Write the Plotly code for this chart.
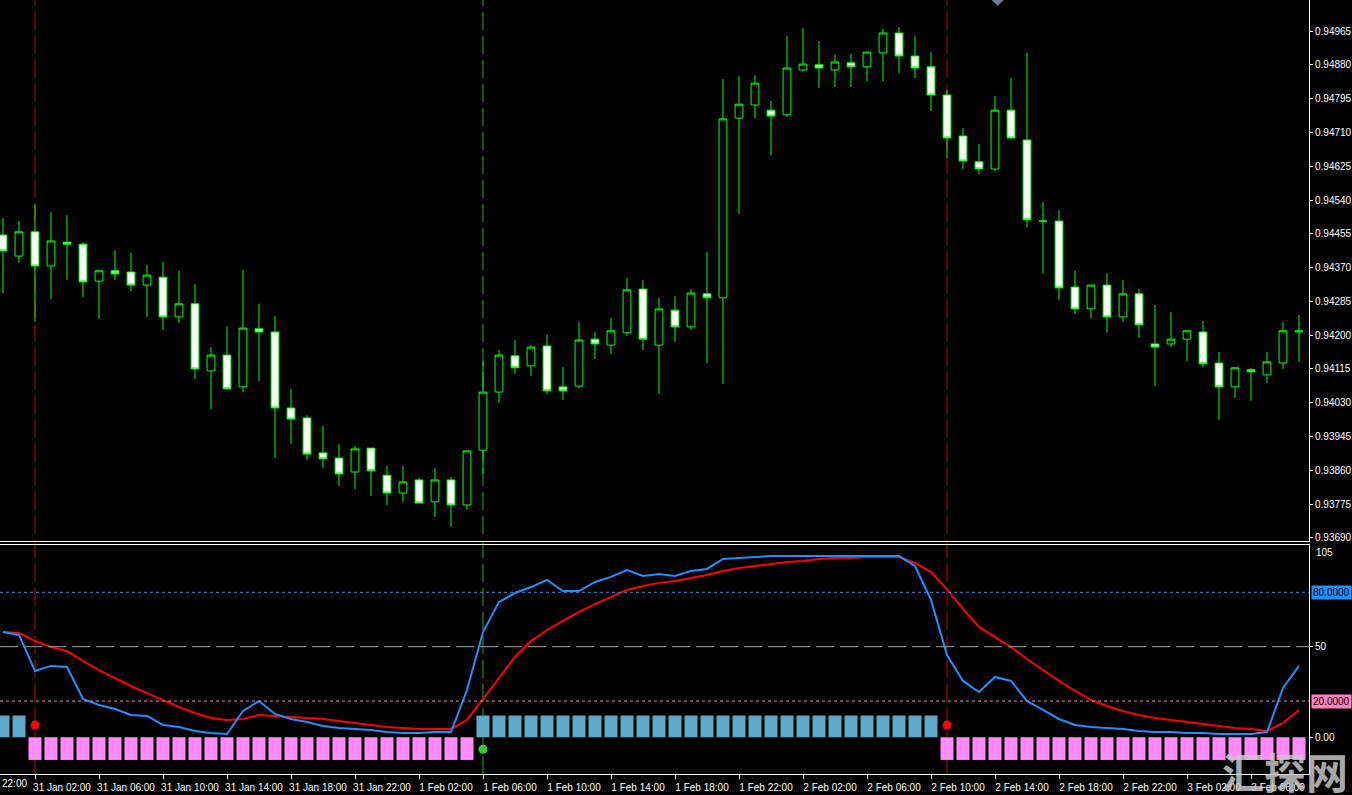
import plotly.graph_objects as go
import pandas as pd

# ---------------- data ----------------
start_time = "2022-01-31 00:00"
n_bars = 82
times = pd.date_range(start_time, periods=n_bars, freq="h")

opens = [0.94452, 0.94399, 0.94460, 0.94374, 0.94434, 0.94429, 0.94336, 0.94362, 0.94359, 0.94326,
         0.94346, 0.94246, 0.94279, 0.94110, 0.94150, 0.94070, 0.94216, 0.94208, 0.94017, 0.93992,
         0.93904, 0.93891, 0.93856, 0.93916, 0.93848, 0.93803, 0.93836, 0.93781, 0.93836, 0.93773,
         0.93911, 0.94057, 0.94148, 0.94123, 0.94173, 0.94070, 0.94072, 0.94190, 0.94175, 0.94206,
         0.94316, 0.94175, 0.94263, 0.94221, 0.94304, 0.94294, 0.94746, 0.94779, 0.94766, 0.94754,
         0.94867, 0.94880, 0.94867, 0.94885, 0.94875, 0.94910, 0.94960, 0.94902, 0.94875, 0.94804,
         0.94701, 0.94636, 0.94618, 0.94766, 0.94691, 0.94487, 0.94487, 0.94321, 0.94266, 0.94326,
         0.94246, 0.94304, 0.94178, 0.94178, 0.94190, 0.94208, 0.94130, 0.94070, 0.94113, 0.94100,
         0.94130, 0.94208]
highs = [0.94495, 0.94487, 0.94530, 0.94510, 0.94502, 0.94434, 0.94362, 0.94414, 0.94407, 0.94377,
         0.94384, 0.94362, 0.94329, 0.94170, 0.94221, 0.94364, 0.94279, 0.94248, 0.94065, 0.93999,
         0.93972, 0.93926, 0.93921, 0.93916, 0.93871, 0.93871, 0.93841, 0.93866, 0.93843, 0.93909,
         0.94135, 0.94163, 0.94188, 0.94175, 0.94201, 0.94120, 0.94233, 0.94208, 0.94243, 0.94344,
         0.94339, 0.94294, 0.94299, 0.94316, 0.94409, 0.94844, 0.94852, 0.94854, 0.94789, 0.94953,
         0.94973, 0.94940, 0.94905, 0.94907, 0.94912, 0.94970, 0.94975, 0.94953, 0.94912, 0.94817,
         0.94721, 0.94681, 0.94802, 0.94847, 0.94910, 0.94535, 0.94515, 0.94362, 0.94326, 0.94356,
         0.94339, 0.94316, 0.94276, 0.94258, 0.94213, 0.94236, 0.94158, 0.94118, 0.94118, 0.94158,
         0.94233, 0.94251]
lows = [0.94306, 0.94382, 0.94233, 0.94291, 0.94339, 0.94296, 0.94241, 0.94339, 0.94311, 0.94246,
        0.94213, 0.94231, 0.94090, 0.94014, 0.94062, 0.94057, 0.94085, 0.93891, 0.93926, 0.93886,
        0.93866, 0.93821, 0.93813, 0.93796, 0.93773, 0.93781, 0.93778, 0.93743, 0.93718, 0.93761,
        0.93851, 0.94030, 0.94102, 0.94097, 0.94052, 0.94037, 0.94067, 0.94140, 0.94153, 0.94198,
        0.94163, 0.94052, 0.94183, 0.94213, 0.94130, 0.94077, 0.94505, 0.94746, 0.94653, 0.94749,
        0.94864, 0.94822, 0.94824, 0.94824, 0.94839, 0.94839, 0.94859, 0.94847, 0.94764, 0.94646,
        0.94618, 0.94605, 0.94613, 0.94693, 0.94472, 0.94356, 0.94289, 0.94253, 0.94243, 0.94206,
        0.94233, 0.94193, 0.94072, 0.94170, 0.94135, 0.94120, 0.93987, 0.94042, 0.94035, 0.94080,
        0.94115, 0.94133]
closes = [0.94412, 0.94460, 0.94374, 0.94437, 0.94429, 0.94334, 0.94362, 0.94354, 0.94326, 0.94351,
          0.94246, 0.94279, 0.94115, 0.94150, 0.94065, 0.94218, 0.94208, 0.94017, 0.93989, 0.93901,
          0.93889, 0.93851, 0.93914, 0.93859, 0.93803, 0.93831, 0.93778, 0.93836, 0.93773, 0.93909,
          0.94057, 0.94150, 0.94118, 0.94170, 0.94060, 0.94060, 0.94188, 0.94178, 0.94211, 0.94314,
          0.94190, 0.94266, 0.94221, 0.94306, 0.94294, 0.94744, 0.94781, 0.94834, 0.94751, 0.94872,
          0.94882, 0.94872, 0.94887, 0.94875, 0.94912, 0.94960, 0.94902, 0.94872, 0.94804, 0.94696,
          0.94638, 0.94618, 0.94766, 0.94696, 0.94490, 0.94487, 0.94319, 0.94266, 0.94326, 0.94246,
          0.94304, 0.94226, 0.94170, 0.94190, 0.94211, 0.94128, 0.94070, 0.94118, 0.94108, 0.94133,
          0.94211, 0.94211]

stoch_main = [58.1, 56.5, 36.6, 39.4, 38.8, 21.1, 17.8, 15.6, 12.3, 11.8,
              6.8, 5.7, 3.5, 2.4, 1.8, 14.5, 20.0, 12.9, 10.1, 8.4,
              6.2, 5.1, 4.6, 4.0, 2.9, 2.4, 2.4, 2.9, 2.9, 26.1,
              58.1, 74.6, 79.6, 82.9, 86.8, 80.7, 80.7, 85.7, 88.5, 92.3,
              89.0, 90.1, 89.0, 91.8, 92.9, 98.4, 98.9, 99.5, 100.0, 100.0,
              100.0, 100.0, 100.0, 100.0, 100.0, 100.0, 100.0, 94.5, 75.8, 45.4,
              31.1, 25.0, 33.3, 31.1, 20.0, 15.1, 10.1, 6.8, 5.7, 5.1,
              4.6, 3.5, 2.9, 2.9, 2.4, 2.4, 1.8, 1.8, 1.8, 2.9,
              27.2, 39.4]
stoch_signal = [58.1, 57.6, 53.1, 49.8, 47.6, 42.1, 37.1, 32.7, 28.3, 24.4,
                20.6, 16.7, 13.4, 10.7, 9.6, 10.1, 12.3, 11.8, 11.2, 10.7,
                10.1, 9.0, 7.9, 6.8, 5.7, 5.1, 4.6, 4.6, 4.6, 9.6,
                21.1, 32.7, 44.3, 53.1, 59.2, 64.2, 69.2, 73.5, 77.4, 81.3,
                83.5, 85.2, 86.3, 87.9, 89.6, 91.8, 93.4, 94.5, 95.6, 96.7,
                97.3, 98.4, 98.9, 98.9, 99.5, 99.5, 99.5, 96.2, 91.2, 81.8,
                70.8, 60.9, 55.4, 49.8, 43.2, 37.1, 31.1, 25.6, 20.6, 17.3,
                14.5, 12.3, 10.7, 9.6, 8.4, 7.3, 6.2, 5.1, 4.6, 3.5,
                7.9, 15.1]
trend_hist = [12, 12,
              -12.5, -12.5, -12.5, -12.5, -12.5, -12.5, -12.5, -12.5, -12.5, -12.5,
              -12.5, -12.5, -12.5, -12.5, -12.5, -12.5, -12.5, -12.5, -12.5, -12.5,
              -12.5, -12.5, -12.5, -12.5, -12.5, -12.5, -12.5, -12.5,
              12, 12, 12, 12, 12, 12, 12, 12, 12, 12,
              12, 12, 12, 12, 12, 12, 12, 12, 12, 12,
              12, 12, 12, 12, 12, 12, 12, 12, 12,
              -12.5, -12.5, -12.5, -12.5, -12.5, -12.5, -12.5, -12.5, -12.5, -12.5,
              -12.5, -12.5, -12.5, -12.5, -12.5, -12.5, -12.5, -12.5, -12.5, -12.5,
              -12.5, -12.5, -12.5]

signal_index = [2, 30, 59]
signal_value = [6.8, -6.6, 6.8]
signal_color = ["#FF0000", "#32CD32", "#FF0000"]

price_ticks = [0.94965, 0.94880, 0.94795, 0.94710, 0.94625, 0.94540, 0.94455, 0.94370,
               0.94285, 0.94200, 0.94115, 0.94030, 0.93945, 0.93860, 0.93775, 0.93690]
ind_ticks = [0, 50]
ind_ticktext = ["0.00", "50"]
ind_top_label = "105"
level_hi, level_mid, level_lo = 80, 50, 20
level_hi_text, level_lo_text = "80.0000", "20.0000"
tick_format = "%-d %b %H:%M"
first_partial_label = "22:00"
watermark = "汇探网"

# ---------------- figure ----------------
FONT = "Liberation Sans, Arial, sans-serif"
GREEN = "#00FF00"
BLUE_BAR = "#5FA8CA"
PINK_BAR = "#FF8CFF"

fig = go.Figure()

hour_ms = 3600 * 1000
x_left = times[0] - pd.Timedelta(minutes=11.25)
x_right = times[0] + pd.Timedelta(minutes=81.625 * 60)

# vertical signal lines (drawn under everything)
for idx, col in zip(signal_index, signal_color):
    fig.add_shape(type="line", xref="x", yref="paper", x0=times[idx], x1=times[idx],
                  y0=0, y1=1, line=dict(color=col, width=1, dash="18px,6px"), layer="below",
                  opacity=0.8)

fig.add_trace(go.Candlestick(
    x=times, open=opens, high=highs, low=lows, close=closes,
    increasing=dict(line=dict(color=GREEN, width=1), fillcolor="#000000"),
    decreasing=dict(line=dict(color=GREEN, width=1), fillcolor="#FFFFFF"),
    whiskerwidth=0, xaxis="x", yaxis="y", showlegend=False, hoverinfo="skip"))

up_vals = [v if v > 0 else None for v in trend_hist]
dn_vals = [v if v < 0 else None for v in trend_hist]
bar_w = 0.8125 * hour_ms
fig.add_trace(go.Bar(x=times, y=up_vals, width=bar_w, marker=dict(color=BLUE_BAR, line=dict(width=0)),
                     xaxis="x2", yaxis="y2", showlegend=False, hoverinfo="skip"))
fig.add_trace(go.Bar(x=times, y=dn_vals, width=bar_w, marker=dict(color=PINK_BAR, line=dict(width=0)),
                     xaxis="x2", yaxis="y2", showlegend=False, hoverinfo="skip"))

fig.add_trace(go.Scatter(x=times, y=stoch_signal, mode="lines", line=dict(color="#FF0000", width=2),
                         xaxis="x2", yaxis="y2", showlegend=False, hoverinfo="skip"))
fig.add_trace(go.Scatter(x=times, y=stoch_main, mode="lines", line=dict(color="#1E90FF", width=2),
                         xaxis="x2", yaxis="y2", showlegend=False, hoverinfo="skip"))

fig.add_trace(go.Scatter(x=[times[i] for i in signal_index], y=signal_value, mode="markers",
                         marker=dict(color=signal_color, size=9, line=dict(width=0)),
                         xaxis="x2", yaxis="y2", showlegend=False, hoverinfo="skip"))

# level lines
fig.add_shape(type="line", xref="paper", yref="y2", x0=0, x1=1, y0=level_hi, y1=level_hi,
              line=dict(color="#3C8CDC", width=1, dash="3px,3px"))
fig.add_shape(type="line", xref="paper", yref="y2", x0=0, x1=1, y0=level_mid, y1=level_mid,
              line=dict(color="#A0A0A0", width=1, dash="18px,6px"))
fig.add_shape(type="line", xref="paper", yref="y2", x0=0, x1=1, y0=level_lo, y1=level_lo,
              line=dict(color="#E67FB4", width=1, dash="3px,3px"))

# level label boxes on the right
for val, txt, bg in [(level_hi, level_hi_text, "#1E90FF"), (level_lo, level_lo_text, "#FF80C0")]:
    fig.add_annotation(xref="paper", yref="y2", x=1, y=val, xshift=2, text=txt, showarrow=False,
                       xanchor="left", yanchor="middle", bgcolor=bg, borderpad=1,
                       font=dict(family=FONT, size=10, color="#000000"))

fig.add_annotation(xref="paper", yref="paper", x=1, y=(774 - 552) / 774, xshift=5, text=ind_top_label,
                   showarrow=False, xanchor="left", yanchor="middle",
                   font=dict(family=FONT, size=10, color="#FFFFFF"))

fig.add_annotation(xref="paper", yref="paper", x=0, y=-9 / 774, text=first_partial_label,
                   showarrow=False, xanchor="left", yanchor="middle",
                   font=dict(family=FONT, size=10, color="#FFFFFF"))

# shift marker triangle at top
fig.add_shape(type="path", xref="paper", yref="paper",
              path="M 0.7575 1 L 0.7667 1 L 0.7621 0.9925 Z",
              fillcolor="#708090", line=dict(width=0))

# watermark
fig.add_annotation(xref="paper", yref="paper", x=1.0315, y=0.004, text="<b>" + watermark + "</b>",
                   showarrow=False, xanchor="right", yanchor="middle",
                   font=dict(family="Noto Sans CJK SC", size=42, color="rgba(200,200,200,0.85)"))

main_bottom = 1 - 541 / 774
ind_top = 1 - 545 / 774

axis_common = dict(showgrid=False, zeroline=False, color="#FFFFFF", linecolor="#FFFFFF", linewidth=1)

fig.update_layout(
    width=1352, height=795,
    margin=dict(l=0, r=43, t=0, b=21),
    paper_bgcolor="#000000", plot_bgcolor="#000000",
    font=dict(family=FONT, size=10, color="#FFFFFF"),
    barmode="overlay", showlegend=False,
    xaxis=dict(**axis_common, type="date", domain=[0, 1], anchor="y", range=[x_left, x_right],
               showline=True, showticklabels=False, ticks="", rangeslider=dict(visible=False)),
    xaxis2=dict(**axis_common, type="date", domain=[0, 1], anchor="y2", matches="x",
                range=[x_left, x_right], showline=True, mirror=True,
                tick0="2022-01-31 02:00", dtick=4 * hour_ms, tickformat=tick_format,
                ticks="outside", ticklen=4, tickcolor="#FFFFFF", ticklabelshift=27,
                tickfont=dict(family=FONT, size=10, color="#FFFFFF")),
    yaxis=dict(**axis_common, domain=[main_bottom, 1], anchor="x", side="right",
               range=[0.936824, 0.950430], tickvals=price_ticks, tickformat=".5f",
               showline=True, ticks="outside", ticklen=3, tickcolor="#FFFFFF",
               tickfont=dict(family=FONT, size=10, color="#FFFFFF")),
    yaxis2=dict(**axis_common, domain=[0, ind_top], anchor="x2", side="right",
                range=[-20.25, 106.1], tickvals=ind_ticks, ticktext=ind_ticktext,
                showline=True, ticks="outside", ticklen=3, tickcolor="#FFFFFF",
                tickfont=dict(family=FONT, size=10, color="#FFFFFF")),
)

fig.write_html("out.html", config={"displayModeBar": False},
               post_script="document.body.style.margin='0';document.body.style.padding='0';"
                           "document.body.style.overflow='hidden';")
